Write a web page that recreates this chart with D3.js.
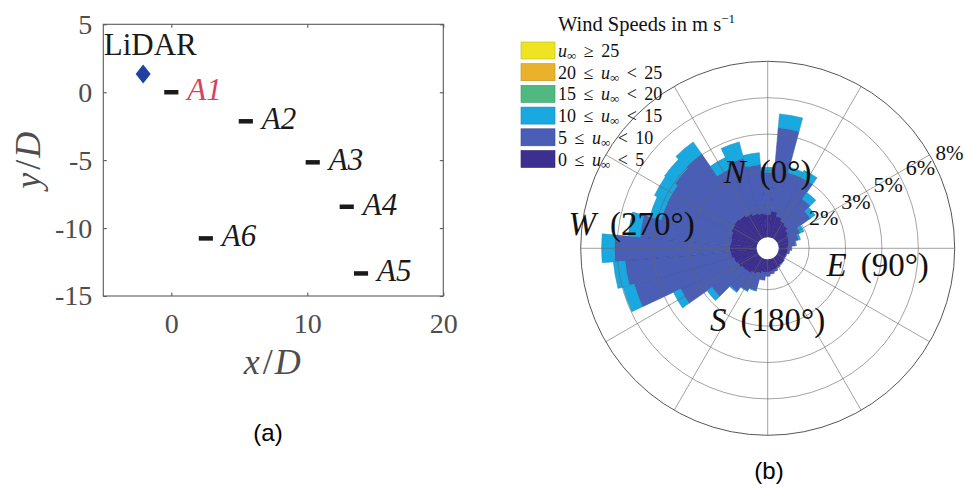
<!DOCTYPE html>
<html><head><meta charset="utf-8">
<script src="https://cdn.jsdelivr.net/npm/d3@7/dist/d3.min.js"></script>
<style>body{margin:0;background:#fff} svg text{font-family:'Liberation Serif','Times New Roman',serif}</style>
</head><body>
<svg id="c" width="965" height="488" xmlns="http://www.w3.org/2000/svg"></svg>
<script>
// ---------- data: panel (a) ----------
const turbineNames = ["A1", "A2", "A3", "A4", "A5", "A6"];
const turbineX = [0, 5.48, 10.4, 12.9, 13.95, 2.54];
const turbineY = [0, -2.14, -5.16, -8.43, -13.34, -10.76];
const lidarPos = [-2.07, 1.34];
const xTicks = [0, 10, 20];
const yTicks = [5, 0, -5, -10, -15];

// ---------- data: panel (b) wind rose (percent of time) ----------
const directions = [0,10,20,30,40,50,60,70,80,90,100,110,120,130,140,150,160,170,
                    180,190,200,210,220,230,240,250,260,270,280,290,300,310,320,330,340,350];
const freq0to5  = [1.27,1.41,1.23,1.10,1.01,0.88,0.79,0.75,0.70,0.66,0.66,0.62,0.62,0.66,0.66,0.70,0.75,0.79,
                   0.84,0.84,0.92,1.01,1.10,1.14,1.23,1.32,1.41,1.45,1.41,1.45,1.54,1.58,1.54,1.45,1.36,1.32];
const freq5to10 = [1.85,3.69,1.98,2.11,1.41,1.19,0.57,0.44,0.31,0.18,0.09,0.04,0.02,0.02,0.04,0.05,0.09,0.13,
                   0.17,0.35,0.79,0.84,1.01,1.63,2.77,4.53,4.66,5.06,4.00,3.17,3.08,3.17,3.30,2.20,2.51,2.15];
const freq10to15= [0.22,0.61,0.26,0.35,0.35,0.26,0.18,0.08,0.04,0,0,0,0,0,0,0,0,0,
                   0,0,0.02,0.02,0.04,0.26,0.35,0.52,0.52,0.57,0.52,0.52,0.65,0.57,0.65,0.53,0.75,0.53];
const ringValues = [1.6, 3.2, 4.8, 6.4, 8.0];
const ringLabels = ["2%", "3%", "5%", "6%", "8%"];
const spokeAngles = [0,30,60,90,120,150,180,210,240,270,300,330];
const compassLabels = [["N", "(0°)"], ["E", "(90°)"], ["S", "(180°)"], ["W", "(270°)"]];
const legendPrefix = ["", "20 ≤ ", "15 ≤ ", "10 ≤ ", "5 ≤ ", "0 ≤ "];
const legendSuffix = [" ≥ 25", " < 25", " < 20", " < 15", " < 10", " < 5"];

// ---------- styles ----------
const legendColors = ["#eee424", "#e9b22a", "#50b97f", "#19a9e0", "#4a5eb6", "#3c2f8f"];
const binColors = ["#3c2f8f", "#4a5eb6", "#19a9e0"];
const SERIF = "'Liberation Serif', 'Times New Roman', serif";
const SANS = "'Liberation Sans', Arial, sans-serif";

const svg = d3.select("#c");

// ================= panel (a) =================
const x = d3.scaleLinear().domain([-5, 20]).range([103.3, 443.3]);
const y = d3.scaleLinear().domain([-15, 5]).range([296, 24.3]);
const A = svg.append("g");
const axisColor = "#5a5a5a";

A.append("rect").attr("x", x(-5)).attr("y", y(5))
  .attr("width", x(20) - x(-5)).attr("height", y(-15) - y(5))
  .attr("fill", "none").attr("stroke", axisColor).attr("stroke-width", 1.1);

function styleAxis(g, showText) {
  g.attr("font-family", null).attr("font-size", null);
  g.select(".domain").remove();
  g.selectAll(".tick line").attr("stroke", axisColor).attr("stroke-width", 1.1);
  g.selectAll(".tick text").attr("fill", "#4d4d4d")
    .style("font-family", SERIF).style("font-size", "28px")
    .attr("display", showText ? null : "none");
}
A.append("g").attr("transform", `translate(0,${y(-15)})`)
  .call(d3.axisBottom(x).tickValues(xTicks).tickSizeInner(-3.5).tickSizeOuter(0).tickPadding(17).tickFormat(d3.format("d")))
  .call(g => styleAxis(g, true));
A.append("g").attr("transform", `translate(0,${y(5)})`)
  .call(d3.axisTop(x).tickValues(xTicks).tickSizeInner(-3.5).tickSizeOuter(0))
  .call(g => styleAxis(g, false));
A.append("g").attr("transform", `translate(${x(-5)},0)`)
  .call(d3.axisLeft(y).tickValues(yTicks).tickSizeInner(-3.5).tickSizeOuter(0).tickPadding(11).tickFormat(d => String(d)))
  .call(g => styleAxis(g, true));
A.append("g").attr("transform", `translate(${x(20)},0)`)
  .call(d3.axisRight(y).tickValues(yTicks).tickSizeInner(-3.5).tickSizeOuter(0))
  .call(g => styleAxis(g, false));

// axis labels
const xl = A.append("text").attr("x", (x(-5) + x(20)) / 2 - 1).attr("y", 374)
  .attr("text-anchor", "middle").attr("fill", "#4d4d4d")
  .style("font-family", SERIF).style("font-size", "36px");
xl.append("tspan").style("font-style", "italic").text("x");
xl.append("tspan").attr("dx", 3).text("/");
xl.append("tspan").attr("dx", 2).style("font-style", "italic").text("D");
const yl = A.append("text").attr("transform", `translate(40,${(y(5) + y(-15)) / 2}) rotate(-90)`)
  .attr("text-anchor", "middle").attr("fill", "#4d4d4d")
  .style("font-family", SERIF).style("font-size", "36px");
yl.append("tspan").style("font-style", "italic").text("y");
yl.append("tspan").attr("dx", 3).text("/");
yl.append("tspan").attr("dx", 2).style("font-style", "italic").text("D");

// turbines
turbineNames.forEach((n, i) => {
  A.append("line").attr("x1", x(turbineX[i] - 0.52)).attr("x2", x(turbineX[i] + 0.52))
    .attr("y1", y(turbineY[i])).attr("y2", y(turbineY[i]))
    .attr("stroke", "#1a1a1a").attr("stroke-width", 4.5);
  A.append("text").attr("x", x(turbineX[i]) + 16).attr("y", y(turbineY[i]) + 8)
    .attr("fill", i === 0 ? "#d6425f" : "#1a1a1a")
    .style("font-family", SERIF).style("font-size", "31px").style("font-style", "italic")
    .text(n);
});
// lidar
const lx = x(lidarPos[0]), ly = y(lidarPos[1]);
A.append("path").attr("d", `M${lx},${ly - 9.5}L${lx + 7.5},${ly}L${lx},${ly + 9.5}L${lx - 7.5},${ly}Z`)
  .attr("fill", "#2141a0");
A.append("text").attr("x", x(-5) + 0.5).attr("y", y(2.74)).attr("fill", "#1a1a1a")
  .style("font-family", SERIF).style("font-size", "31px").text("LiDAR");

svg.append("text").attr("x", 268).attr("y", 441).attr("text-anchor", "middle")
  .style("font-family", SANS).style("font-size", "24px").attr("fill", "#000").text("(a)");

// ================= panel (b) =================
const cx = 767.7, cy = 248.3;
const r = d3.scaleLinear().domain([0, 8]).range([5, 187]);
const B = svg.append("g").attr("transform", `translate(${cx},${cy})`);
const rows = directions.map((d, i) => ({dir: d, b0: freq0to5[i], b1: freq5to10[i], b2: freq10to15[i]}));
const series = d3.stack().keys(["b0", "b1", "b2"])(rows);
const toRad = Math.PI / 180;
const arc = d3.arc()
  .innerRadius(d => r(d[0])).outerRadius(d => r(d[1]))
  .startAngle(d => (d.data.dir - 5) * toRad).endAngle(d => (d.data.dir + 5) * toRad);
series.forEach((s, k) => {
  B.append("g").selectAll("path").data(s.filter(d => d[1] - d[0] > 0)).join("path")
    .attr("d", arc).attr("fill", binColors[k])
    .attr("stroke", d3.color(binColors[k]).darker(0.5)).attr("stroke-width", 0.5);
});
// grid
B.append("g").selectAll("circle").data(ringValues).join("circle")
  .attr("r", d => r(d)).attr("fill", "none")
  .attr("stroke", (d, i) => i === ringValues.length - 1 ? "#444" : "#666")
  .attr("stroke-opacity", (d, i) => i === ringValues.length - 1 ? 0.9 : 0.6).attr("stroke-width", 1);
B.append("g").selectAll("line").data(spokeAngles).join("line")
  .attr("x1", 0).attr("y1", 0)
  .attr("x2", d => r(8) * Math.sin(d * toRad)).attr("y2", d => -r(8) * Math.cos(d * toRad))
  .attr("stroke", "#666").attr("stroke-opacity", 0.6).attr("stroke-width", 1);
B.append("circle").attr("r", 11).attr("fill", "#fff");

// ring labels
const labAng = 62.5 * toRad;
ringValues.forEach((v, i) => {
  const rr = r(v) + (i === ringValues.length - 1 ? 1 : 4);
  B.append("text").attr("x", rr * Math.sin(labAng) + 1).attr("y", -rr * Math.cos(labAng) - 2)
    .style("font-family", SERIF).style("font-size", i === ringValues.length - 1 ? "21px" : "22px")
    .attr("fill", "#111").text(ringLabels[i]);
});

// compass labels (offsets relative to rose centre)
const compassPos = [[0, -65], [110, 28], [0, 83], [-136, -13]];
compassLabels.forEach((c, i) => {
  const t = B.append("text").attr("x", compassPos[i][0]).attr("y", compassPos[i][1])
    .attr("text-anchor", "middle").attr("fill", "#111")
    .style("font-family", SERIF).style("font-size", "33px");
  t.append("tspan").style("font-style", "italic").text(c[0]);
  t.append("tspan").attr("dx", 14).text(c[1]);
});

// legend
const L = svg.append("g");
const lt = L.append("text").attr("x", 558).attr("y", 31).attr("fill", "#111")
  .style("font-family", SERIF).style("font-size", "20.5px");
lt.append("tspan").text("Wind Speeds in m s");
lt.append("tspan").attr("dy", -8).style("font-size", "13px").text("−1");
legendColors.forEach((col, i) => {
  const y0 = 42 + i * 21.7;
  L.append("rect").attr("x", 521).attr("y", y0).attr("width", 34).attr("height", 17)
    .attr("fill", col).attr("stroke", d3.color(col).darker(0.6)).attr("stroke-width", 0.6);
  const t = L.append("text").attr("x", 558).attr("y", y0 + 15).attr("fill", "#111")
    .style("font-family", SERIF).style("font-size", "18px").style("word-spacing", "3px");
  if (legendPrefix[i]) t.append("tspan").text(legendPrefix[i]);
  t.append("tspan").style("font-style", "italic").text("u");
  t.append("tspan").attr("dy", 3).style("font-size", "13px").text("∞");
  t.append("tspan").attr("dy", -3).text(legendSuffix[i]);
});

svg.append("text").attr("x", 769).attr("y", 479).attr("text-anchor", "middle")
  .style("font-family", SANS).style("font-size", "24px").attr("fill", "#000").text("(b)");
</script>
</body></html>
